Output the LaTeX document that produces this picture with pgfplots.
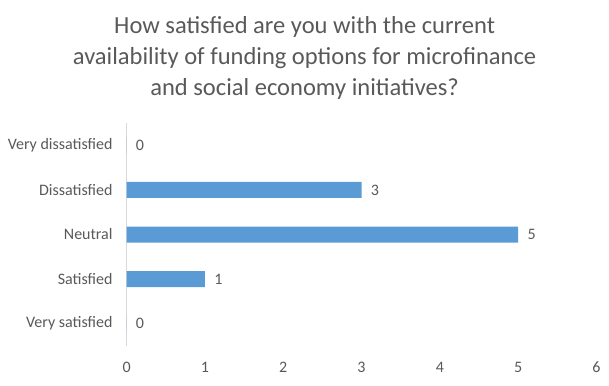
\documentclass[border=0pt]{standalone}
\usepackage{pgfplots}
\pgfplotsset{compat=1.18}
\usepackage{fontspec}
\setmainfont{Carlito}
\definecolor{barblue}{HTML}{5B9BD5}
\definecolor{txtgray}{HTML}{595959}
\definecolor{axgray}{HTML}{D9D9D9}
\begin{document}
\begin{tikzpicture}
\path[use as bounding box] (-94.95pt,-29.25pt) rectangle (361.8pt,259.5pt);
\begin{axis}[
  at={(0,0)}, anchor=south west,
  scale only axis,
  width=352.4pt, height=167.25pt,
  xbar, bar width=12pt,
  xmin=0, xmax=6,
  ymin=-0.5, ymax=4.5,
  xtick={0,1,...,6},
  ytick={0,1,2,3,4},
  yticklabels={Very satisfied,Satisfied,Neutral,Dissatisfied,Very dissatisfied},
  axis x line*=bottom,
  axis y line*=left,
  x axis line style={draw=none, -},
  y axis line style={draw=axgray, line width=0.75pt, -},
  major tick length=0pt,
  tick style={draw=none},
  xticklabel style={font=\fontsize{12pt}{14pt}\selectfont, text=txtgray, yshift=-8.5pt},
  yticklabel style={font=\fontsize{12pt}{14pt}\selectfont, text=txtgray, xshift=-7pt},
  /pgf/number format/assume math mode=true,
  nodes near coords,
  every node near coord/.append style={font=\fontsize{12pt}{14pt}\selectfont, text=txtgray, anchor=west, xshift=3.5pt},
  clip=false,
]
\addplot[fill=barblue, draw=none] coordinates {(0,0) (1,1) (5,2) (3,3) (0,4)};
\end{axis}
\node[align=center, text=txtgray, font=\fontsize{18.4pt}{23.25pt}\selectfont] at (133.5pt,215.8pt)
  {How satisfied are you with the current\\availability of funding options for microfinance\\and social economy initiatives?};
\end{tikzpicture}
\end{document}
